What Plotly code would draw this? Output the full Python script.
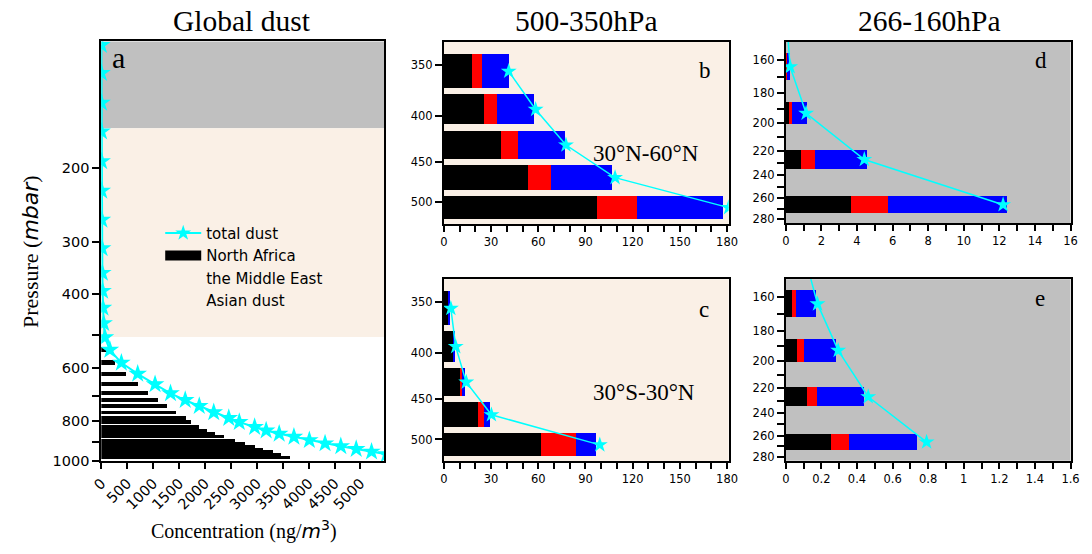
import plotly.graph_objects as go
import math

# ---------------- data ----------------
# Panel a: global dust profile
lev_a = [102, 119, 140, 164, 193, 227, 266, 311, 356, 393, 431, 469, 507, 543, 583, 619, 656, 689,
         715, 739, 765, 789, 807, 829, 845, 860, 875, 891, 907, 921, 935, 949, 963, 980]
total_a = [1, 2, 3, 4, 6, 8, 11, 15, 20, 25, 32, 45, 70, 165, 387, 702, 1037, 1335,
           1619, 1890, 2169, 2459, 2662, 2958, 3180, 3432, 3716, 4014, 4317, 4621, 4918, 5214, 5500, 5850]
na_a = [0, 0, 0, 0, 0, 0, 0, 0, 0, 0, 0, 0, 0, 102, 260, 468, 715, 904,
        1094, 1259, 1435, 1625, 1739, 1884, 2042, 2200, 2370, 2579, 2768, 2958, 3117, 3307, 3470, 3635]

# Panel a background bands (hPa)
band_gray = [100, 161]
band_linen = [161, 506]

# Panel b: 500-350 hPa, 30N-60N
lev_b = [356, 393, 431, 469, 507]
na_b = [17.9, 25.6, 36.4, 53.3, 97.6]
me_b = [6.0, 8.3, 10.4, 15.0, 25.0]
as_b = [17.3, 23.5, 30.0, 38.3, 54.7]
total_b = [41.2, 58.3, 77.6, 108.8, 181.0]

# Panel c: 500-350 hPa, 30S-30N
lev_c = [356, 393, 431, 469, 507]
na_c = [2.7, 5.8, 10.6, 21.4, 62.0]
me_c = [0.3, 0.3, 0.8, 4.2, 21.9]
as_c = [0.7, 0.8, 1.7, 3.7, 13.1]
total_c = [4.4, 7.5, 14.2, 30.2, 99.1]

# Panel d: 266-160 hPa, 30N-60N
lev_d = [164, 193, 227, 266]
na_d = [0.03, 0.17, 0.86, 3.68]
me_d = [0.01, 0.16, 0.78, 2.04]
as_d = [0.22, 0.87, 2.92, 6.73]
lev_d_line = [140, 164, 193, 227, 266]
total_d = [0.05, 0.24, 1.14, 4.41, 12.21]

# Panel e: 266-160 hPa, 30S-30N
lev_e = [164, 193, 227, 266]
na_e = [0.035, 0.064, 0.12, 0.252]
me_e = [0.02, 0.039, 0.055, 0.105]
as_e = [0.114, 0.177, 0.265, 0.379]
lev_e_line = [140, 164, 193, 227, 266]
total_e = [0.11, 0.178, 0.294, 0.463, 0.791]

# ---------------- style ----------------
W, H = 1092, 554
CYAN = "#00FFFF"
LINEN = "#FAF0E6"
GRAY = "#C0C0C0"
SANS = "DejaVu Sans"
SERIF = "Liberation Serif"


def px_x(a, b):
    return [a / W, b / W]


def px_y(top, bottom):
    return [(H - bottom) / H, (H - top) / H]


fig = go.Figure()

# panel a
fig.add_trace(go.Bar(y=lev_a, x=na_a, orientation="h", width=15, marker=dict(color="black", line=dict(width=0)),
                     xaxis="x", yaxis="y", showlegend=False))
fig.add_trace(go.Scatter(y=lev_a, x=total_a, mode="lines+markers", line=dict(color=CYAN, width=2),
                         marker=dict(symbol="star", size=14, color=CYAN), xaxis="x", yaxis="y", showlegend=False))


def add_panel(ax, ay, lev, na, me, asd, lev_line, tot, bw):
    for vals, col in ((na, "black"), (me, "red"), (asd, "blue")):
        fig.add_trace(go.Bar(y=lev, x=vals, orientation="h", width=bw, marker=dict(color=col, line=dict(width=0)),
                             xaxis=ax, yaxis=ay, showlegend=False))
    fig.add_trace(go.Scatter(y=lev_line, x=tot, mode="lines+markers", line=dict(color=CYAN, width=1.5),
                             marker=dict(symbol="star", size=12, color=CYAN), xaxis=ax, yaxis=ay, showlegend=False))


add_panel("x2", "y2", lev_b, na_b, me_b, as_b, lev_b, total_b, 31)
add_panel("x3", "y3", lev_c, na_c, me_c, as_c, lev_c, total_c, 31)
add_panel("x4", "y4", lev_d, na_d, me_d, as_d, lev_d_line, total_d, 15.5)
add_panel("x5", "y5", lev_e, na_e, me_e, as_e, lev_e_line, total_e, 15.5)

# legend entries
fig.add_trace(go.Scatter(x=[None], y=[None], mode="lines+markers", name="total dust",
                         line=dict(color=CYAN, width=2), marker=dict(symbol="star", size=12, color=CYAN),
                         legendrank=1, xaxis="x", yaxis="y"))
fig.add_trace(go.Scatter(x=[None], y=[None], mode="lines", name="North Africa",
                         line=dict(color="black", width=10), legendrank=2, xaxis="x", yaxis="y"))
fig.add_trace(go.Scatter(x=[None], y=[None], mode="lines", name="the Middle East",
                         line=dict(color="rgba(0,0,0,0)", width=10), legendrank=3, xaxis="x", yaxis="y"))
fig.add_trace(go.Scatter(x=[None], y=[None], mode="lines", name="Asian dust",
                         line=dict(color="rgba(0,0,0,0)", width=10), legendrank=4, xaxis="x", yaxis="y"))

common = dict(showline=True, mirror=True, linecolor="black", linewidth=2, ticks="outside",
              tickwidth=1.5, tickcolor="black", showgrid=False, zeroline=False)


def yticks(vals, labeled):
    return dict(tickvals=vals, ticktext=[str(v) if v in labeled else "" for v in vals])


# axis a
YA_RANGE = [3, 2]
xa_vals = list(range(0, 5001, 500))
fig.update_layout(
    xaxis=dict(domain=px_x(92, 380), anchor="y", range=[0, 5455], tickvals=xa_vals,
               ticktext=[str(v) for v in xa_vals], tickangle=-45, ticklen=6,
               tickfont=dict(family=SANS, size=14.5, color="black"), **common),
    yaxis=dict(domain=px_y(42, 468), anchor="x", type="log", range=YA_RANGE, ticklen=7,
               tickfont=dict(family=SANS, size=14.5, color="black"),
               **yticks([200, 300, 400, 500, 600, 700, 800, 900, 1000], [200, 300, 400, 600, 800, 1000]), **common),
)

bc_x = list(range(0, 181, 10))
bc_xt = [str(v) if v % 30 == 0 else "" for v in bc_x]
de_y = list(range(160, 281, 10))
de_lab = list(range(160, 281, 20))
d_x = list(range(0, 17))
d_xt = [str(v) if v % 2 == 0 else "" for v in d_x]
e_x = [round(i * 0.1, 1) for i in range(0, 17)]
e_xt = [(("%g" % v) if i % 2 == 0 else "") for i, v in enumerate(e_x)]
small = dict(family=SANS, size=11.5, color="black")

fig.update_layout(
    xaxis2=dict(domain=px_x(441, 731), anchor="y2", range=[0, 181], tickvals=bc_x, ticktext=bc_xt,
                ticklen=6, tickfont=small, **common),
    yaxis2=dict(domain=px_y(42.7, 227.3), anchor="x2", type="log", range=[math.log10(529), math.log10(330)],
                ticklen=7, tickfont=small, **yticks([350, 400, 450, 500], [350, 400, 450, 500]), **common),
    xaxis3=dict(domain=px_x(441, 731), anchor="y3", range=[0, 181], tickvals=bc_x, ticktext=bc_xt,
                ticklen=6, tickfont=small, **common),
    yaxis3=dict(domain=px_y(283.3, 468), anchor="x3", type="log", range=[math.log10(529), math.log10(330)],
                ticklen=7, tickfont=small, **yticks([350, 400, 450, 500], [350, 400, 450, 500]), **common),
    xaxis4=dict(domain=px_x(789.3, 1079.3), anchor="y4", range=[0, 16], tickvals=d_x, ticktext=d_xt,
                ticklen=6, tickfont=small, **common),
    yaxis4=dict(domain=px_y(42.7, 226.7), anchor="x4", type="log", range=[math.log10(284), math.log10(150.4)],
                ticklen=7, tickfont=small, **yticks(de_y, de_lab), **common),
    xaxis5=dict(domain=px_x(789.3, 1079.3), anchor="y5", range=[0, 1.6], tickvals=e_x, ticktext=e_xt,
                ticklen=6, tickfont=small, **common),
    yaxis5=dict(domain=px_y(283.3, 467.5), anchor="x5", type="log", range=[math.log10(284), math.log10(150.4)],
                ticklen=7, tickfont=small, **yticks(de_y, de_lab), **common),
)


def frac_a(p):
    # position of pressure p as a fraction of panel a's (reversed, log) y-axis
    return (YA_RANGE[0] - math.log10(p)) / (YA_RANGE[0] - YA_RANGE[1])


# background shading
shapes = [
    dict(type="rect", xref="x domain", yref="y domain", x0=0, x1=1,
         y0=frac_a(band_gray[1]), y1=frac_a(band_gray[0]),
         fillcolor=GRAY, line=dict(width=0), layer="below"),
    dict(type="rect", xref="x domain", yref="y domain", x0=0, x1=1,
         y0=frac_a(band_linen[1]), y1=frac_a(band_linen[0]),
         fillcolor=LINEN, line=dict(width=0), layer="below"),
]
for ax, col in (("x2", LINEN), ("x3", LINEN), ("x4", GRAY), ("x5", GRAY)):
    ay = "y" + ax[1:]
    shapes.append(dict(type="rect", xref=ax + " domain", yref=ay + " domain", x0=0, x1=1, y0=0, y1=1,
                       fillcolor=col, line=dict(width=0), layer="below"))

annotations = []


def ann(text, x, y, size, family=SERIF, **kw):
    annotations.append(dict(text=text, x=x / W, y=(H - y) / H, xref="paper", yref="paper", showarrow=False,
                            font=dict(family=family, size=size, color="black"), xanchor="center",
                            yanchor="middle", **kw))


ann("Global dust", 235, 21, 29.5)
ann("500-350hPa", 586, 21, 29.5)
ann("266-160hPa", 936, 21, 29.5)
ann("a", 109, 58, 30)
ann("b", 707, 72, 23)
ann("c", 706, 314, 23)
ann("d", 1049, 61, 23)
ann("e", 1048, 303, 23)
ann("30°N-60°N", 647, 156, 23)
ann("30°S-30°N", 645, 398, 23)
ann("Concentration (ng/<span style='font-family:DejaVu Sans'><i>m</i><sup>3</sup></span>)", 237, 538, 20)
ann("Pressure (<span style='font-family:DejaVu Sans'><i>mbar</i></span>)", 20, 255, 22, textangle=-90)

fig.update_layout(
    width=W, height=H, margin=dict(l=0, r=0, t=0, b=0),
    paper_bgcolor="white", plot_bgcolor="rgba(0,0,0,0)",
    barmode="stack", shapes=shapes, annotations=annotations,
    legend=dict(x=152 / W, y=(H - 220) / H, xanchor="left", yanchor="top", bgcolor="rgba(0,0,0,0)",
                font=dict(family=SANS, size=15, color="black"), itemwidth=36, traceorder="normal"),
    showlegend=True,
)

fig.write_html("out.html")
